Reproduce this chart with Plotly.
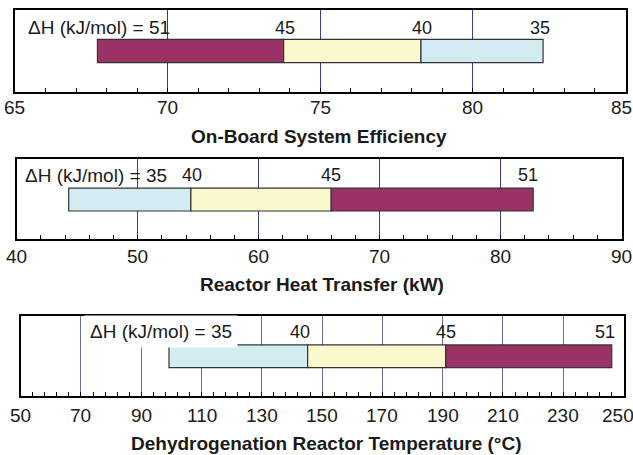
import plotly.graph_objects as go

W, H = 633, 455

# ---- data ----
eff_dh = [51, 45, 40, 35]
eff_vals = [67.7, 73.8, 78.3, 82.3]
eff_ticks = [65, 70, 75, 80, 85]

heat_dh = [35, 40, 45, 51]
heat_vals = [44.3, 54.4, 66.0, 82.7]
heat_ticks = [40, 50, 60, 70, 80, 90]

temp_dh = [35, 40, 45, 51]
temp_vals = [99.2, 145.2, 191.0, 246.1]
temp_ticks = [50, 70, 90, 110, 130, 150, 170, 190, 210, 230, 250]

titles = ["On-Board System Efficiency",
          "Reactor Heat Transfer (kW)",
          "Dehydrogenation Reactor Temperature (°C)"]

# ---- styling ----
seg_color = {(35, 40): "#d3ecf2", (40, 45): "#fbf8cd", (45, 51): "#993366"}
TICKFONT = dict(family="Liberation Sans, Arial", size=19, color="#1a1a1a")
LBLFONT = dict(family="Liberation Sans, Arial", size=19, color="#1a1a1a")
NUMFONT = dict(family="Liberation Sans, Arial", size=18, color="#1a1a1a")
TITLEFONT = dict(family="Liberation Sans, Arial", size=19, color="#1a1a1a")

panels = [
    dict(dh=eff_dh, vals=eff_vals, ticks=eff_ticks, minor=1,
         xdom=[15 / W, 625.5 / W], ydom=[1 - 91.7 / H, 1 - 9.5 / H],
         grid="#3a3a8a", lblx=65.36, lbly=0.78, numy=0.77, bg=False,
         tx=319, ty=136.7, tick_dy=15.8, last_dx=-4.5, num_dx=[1, 1, -3]),
    dict(dh=heat_dh, vals=heat_vals, ticks=heat_ticks, minor=2,
         xdom=[16.7 / W, 621.5 / W], ydom=[1 - 239.3 / H, 1 - 159 / H],
         grid="#3a3a8a", lblx=40.55, lbly=0.80, numy=0.80, bg=False,
         tx=322, ty=284, tick_dy=16.7, last_dx=0, num_dx=[1, 0, -5]),
    dict(dh=temp_dh, vals=temp_vals, ticks=temp_ticks, minor=4,
         xdom=[20.7 / W, 623.5 / W], ydom=[1 - 395.7 / H, 1 - 316 / H],
         grid="#6b6ba8", lblx=71.0, lbly=0.80, numy=0.80, bg=True,
         tx=326, ty=443, tick_dy=19.3, last_dx=-5.5, num_dx=[-8, 0, -7]),
]

BAR_Y = 0.495
BAR_W = 0.285

fig = go.Figure()
annotations = []
layout = {}

for i, p in enumerate(panels, start=1):
    xa = "x" if i == 1 else f"x{i}"
    ya = "y" if i == 1 else f"y{i}"
    dh, vals, ticks = p["dh"], p["vals"], p["ticks"]
    for k in range(len(vals) - 1):
        a, b = vals[k], vals[k + 1]
        key = tuple(sorted((dh[k], dh[k + 1])))
        fig.add_trace(go.Bar(
            x=[b - a], base=[a], y=[BAR_Y], width=BAR_W, orientation="h",
            marker=dict(color=seg_color[key], line=dict(color="#333333", width=1.2)),
            xaxis=xa, yaxis=ya, showlegend=False, hoverinfo="skip"))
    layout[f"xaxis{i}"] = dict(
        domain=p["xdom"], anchor=ya, range=[ticks[0], ticks[-1]],
        tickmode="array", tickvals=ticks, showticklabels=False,
        showgrid=True, gridcolor=p["grid"], gridwidth=1, automargin=False,
        showline=True, linecolor="black", linewidth=2, mirror=True,
        ticks="inside", ticklen=4, tickcolor="black", tickwidth=1,
        minor=dict(dtick=p["minor"], tick0=ticks[0], ticks="inside", ticklen=4,
                   tickcolor="black", tickwidth=1, showgrid=False),
        zeroline=False, fixedrange=True)
    layout[f"yaxis{i}"] = dict(
        domain=p["ydom"], anchor=xa, range=[0, 1], showticklabels=False,
        showgrid=False, zeroline=False, showline=True, linecolor="black",
        linewidth=2, mirror=True, ticks="", fixedrange=True, automargin=False)
    # tick labels
    for j, t in enumerate(ticks):
        annotations.append(dict(
            x=t, y=0, xref=xa, yref=ya, xanchor="center", yanchor="middle",
            yshift=-p["tick_dy"], xshift=(p["last_dx"] if j == len(ticks) - 1 else 0),
            text=str(t), showarrow=False, font=TICKFONT))
    # Delta-H leading label
    ann = dict(x=p["lblx"], y=p["lbly"], xref=xa, yref=ya, xanchor="left",
               yanchor="middle", text=f"ΔH (kJ/mol) = {dh[0]}", showarrow=False,
               font=LBLFONT)
    if p["bg"]:
        ann.update(bgcolor="white", borderpad=5)
    annotations.append(ann)
    for k in range(1, len(vals)):
        annotations.append(dict(x=vals[k], y=p["numy"], xref=xa, yref=ya,
                                xanchor="center", yanchor="middle", text=str(dh[k]),
                                xshift=p["num_dx"][k - 1],
                                showarrow=False, font=NUMFONT))
    annotations.append(dict(x=p["tx"] / W, y=1 - p["ty"] / H, xref="paper", yref="paper",
                            xanchor="center", yanchor="middle",
                            text=f"<b>{titles[i - 1]}</b>", showarrow=False,
                            font=TITLEFONT))

fig.update_layout(
    width=W, height=H, margin=dict(l=0, r=0, t=0, b=0, autoexpand=False),
    paper_bgcolor="white", plot_bgcolor="white",
    annotations=annotations, barmode="overlay", **layout)

fig.write_html("out.html")
